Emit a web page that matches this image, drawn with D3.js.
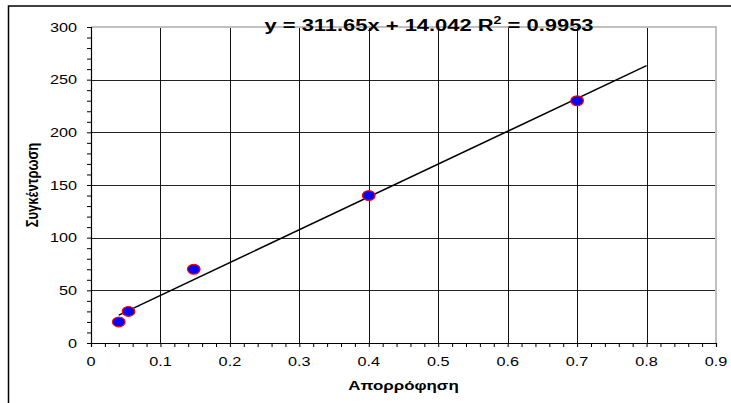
<!DOCTYPE html>
<html>
<head>
<meta charset="utf-8">
<script src="https://cdn.jsdelivr.net/npm/d3@7"></script>
<style>
  html, body { margin: 0; padding: 0; background: #fff; }
  svg { display: block; }
  text { font-family: Arial, "Liberation Sans", sans-serif; fill: #000; }
</style>
</head>
<body>
<svg id="chart" width="731" height="403"></svg>
<script>
// ---- data ----
const absorbance = [0.04, 0.054, 0.148, 0.4, 0.7];
const concentration = [20, 30, 70, 140, 230];
const trendCoef = [311.65, 14.042];   // slope, intercept
const trendRange = [0.04, 0.8];
const xTicks = [0, 0.1, 0.2, 0.3, 0.4, 0.5, 0.6, 0.7, 0.8, 0.9];
const yTicks = [0, 50, 100, 150, 200, 250, 300];
const xTitle = "Απορρόφηση";
const yTitle = "Συγκέντρωση";
const equation = ["y = 311.65x + 14.042 R", "2", " = 0.9953"];

// ---- layout ----
const svg = d3.select("#chart");
const L = 91, R = 716, T = 27, B = 343;
const SX = 1.3; // horizontal text stretch seen in the reference
const x = d3.scaleLinear().domain([0, 0.9]).range([L, R]);
const y = d3.scaleLinear().domain([0, 300]).range([B, T]);

// outer chart border
svg.append("rect").attr("x", 8.5).attr("y", 6).attr("width", 760).attr("height", 420)
  .attr("fill", "#fff").attr("stroke", "#000").attr("stroke-width", 1.5);

// gridlines
const grid = svg.append("g");
grid.selectAll("line.h").data(yTicks.filter(d => d > 0 && d < 300)).join("line")
  .attr("x1", L).attr("x2", R).attr("y1", d => Math.round(y(d)) + 0.5).attr("y2", d => Math.round(y(d)) + 0.5)
  .attr("stroke", "#222").attr("stroke-width", 1);
grid.selectAll("line.v").data(xTicks.filter(d => d > 0 && d < 0.9)).join("line")
  .attr("y1", T).attr("y2", B).attr("x1", d => Math.round(x(d)) + 0.5).attr("x2", d => Math.round(x(d)) + 0.5)
  .attr("stroke", "#111").attr("stroke-width", 1);

// plot area border (top/right grey)
svg.append("path")
  .attr("d", `M${L},${T} H${R} V${B}`)
  .attr("fill", "none").attr("stroke", "#c0c0c0").attr("stroke-width", 2);

// axes with minor ticks
const yMinor = d3.range(0, 301, 10);
const xMinor = d3.range(0, 0.9001, 0.02);
const yAxis = d3.axisLeft(y).tickValues(yMinor).tickSize(4).tickFormat("");
const xAxis = d3.axisBottom(x).tickValues(xMinor).tickSize(4).tickFormat("");
const gy = svg.append("g").attr("transform", `translate(${L},0)`).call(yAxis);
const gx = svg.append("g").attr("transform", `translate(0,${B})`).call(xAxis);
[gy, gx].forEach(g => {
  g.select(".domain").attr("stroke", "#000").attr("stroke-width", 1.2);
  g.selectAll(".tick line").attr("stroke", "#000").attr("stroke-width", 1);
});

// tick labels (stretched horizontally)
svg.append("g").selectAll("text").data(yTicks).join("text")
  .attr("transform", d => `translate(77,${y(d) + 4.5}) scale(${SX},1)`)
  .attr("text-anchor", "end").attr("font-size", 12.5).text(d => d);
svg.append("g").selectAll("text").data(xTicks).join("text")
  .attr("transform", d => `translate(${x(d)},${366}) scale(${SX},1)`)
  .attr("text-anchor", "middle").attr("font-size", 12.5).text(d => d);

// axis titles
svg.append("text")
  .attr("transform", `translate(${(L + R) / 2},390) scale(${SX},1)`)
  .attr("text-anchor", "middle").attr("font-size", 13).attr("font-weight", "bold").text(xTitle);
svg.append("text")
  .attr("transform", `translate(38,${(T + B) / 2}) scale(${SX},1) rotate(-90)`)
  .attr("text-anchor", "middle").attr("font-size", 13).attr("font-weight", "bold").text(yTitle);

// trendline
const f = v => trendCoef[0] * v + trendCoef[1];
svg.append("line")
  .attr("x1", x(trendRange[0])).attr("y1", y(f(trendRange[0])))
  .attr("x2", x(trendRange[1])).attr("y2", y(f(trendRange[1])))
  .attr("stroke", "#000").attr("stroke-width", 1.5);

// markers
svg.append("g").selectAll("ellipse").data(absorbance.map((a, i) => [a, concentration[i]])).join("ellipse")
  .attr("cx", d => x(d[0])).attr("cy", d => y(d[1]))
  .attr("rx", 6.3).attr("ry", 4.9)
  .attr("fill", "#0000ff").attr("stroke", "#ff0000").attr("stroke-width", 1.2);

// equation label
const eq = svg.append("text")
  .attr("transform", `translate(429,31) scale(1.29,1)`)
  .attr("text-anchor", "middle").attr("font-size", 17).attr("font-weight", "bold");
eq.append("tspan").text(equation[0]);
eq.append("tspan").attr("font-size", 11).attr("dy", -7).text(equation[1]);
eq.append("tspan").attr("dy", 7).text(equation[2]);
</script>
</body>
</html>
